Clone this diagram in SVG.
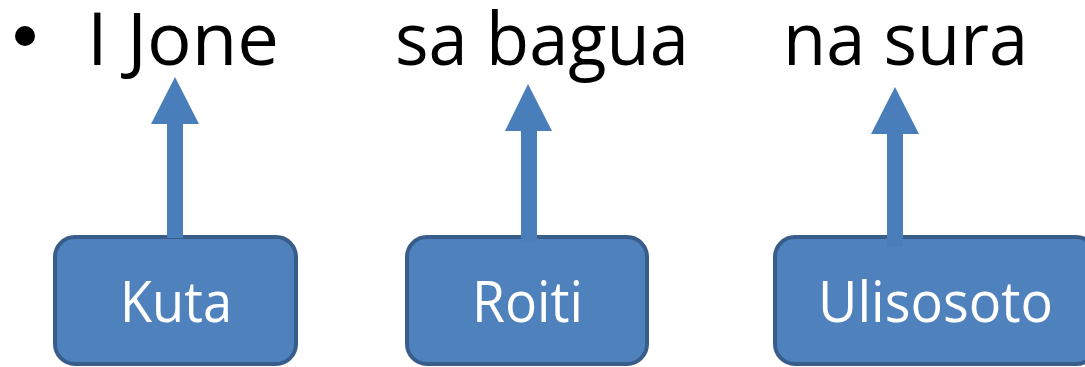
<svg xmlns="http://www.w3.org/2000/svg" width="1085" height="367" viewBox="0 0 1085 367">
<style>
.word{font-family:"Open Sans","Noto Sans",sans-serif;font-size:74px;fill:#000}
.box{fill:#4F81BD;stroke:#385D8A;stroke-width:4}
.lbl{font-family:"Open Sans","Noto Sans",sans-serif;font-size:56px;fill:#fff;text-anchor:middle}
.arr{fill:#4A7EBB}
</style>
<rect width="1085" height="367" fill="#fff"/>
<g id="sentence">
<circle cx="25" cy="36" r="10" fill="#000"/>
<text class="word" x="87" y="65" textLength="192" lengthAdjust="spacingAndGlyphs">I Jone</text>
<text class="word" x="395" y="65" textLength="294" lengthAdjust="spacingAndGlyphs">sa bagua</text>
<text class="word" x="783" y="65" textLength="245" lengthAdjust="spacingAndGlyphs">na sura</text>
</g>
<g id="node-kuta">
<rect class="box" x="55" y="237" width="241" height="127" rx="20"/>
<text class="lbl" x="176" y="322" textLength="112" lengthAdjust="spacingAndGlyphs">Kuta</text>
</g>
<g id="node-roiti">
<rect class="box" x="407" y="237" width="240" height="127" rx="20"/>
<text class="lbl" x="527.5" y="322" textLength="111" lengthAdjust="spacingAndGlyphs">Roiti</text>
</g>
<g id="node-ulisosoto">
<rect class="box" x="775" y="237" width="321" height="127" rx="20"/>
<text class="lbl" x="935.5" y="322" textLength="235" lengthAdjust="spacingAndGlyphs">Ulisosoto</text>
</g>
<g id="connectors">
<path class="arr" d="M167,238 L167,124 L151,124 L175,77 L199,124 L183,124 L183,238 Z"/>
<path class="arr" d="M521,243 L521,131 L505,131 L528,84 L552,131 L537,131 L537,243 Z"/>
<path class="arr" d="M887,247 L887,134 L871,134 L895,87 L919,134 L903,134 L903,247 Z"/>
</g>
</svg>
